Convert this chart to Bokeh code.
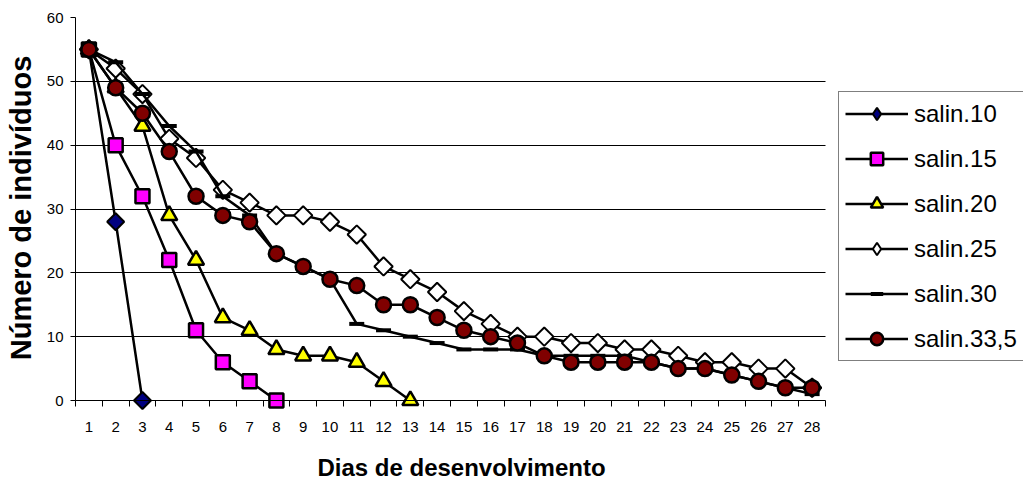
import math
from bokeh.plotting import figure
from bokeh.models import (Range1d, FixedTicker, Legend, LegendItem, Label)
from bokeh.embed import file_html
from bokeh.resources import INLINE

# ---- data ----
days = list(range(1, 29))
tick_labels = [str(d) for d in days]
y_ticks = [0, 10, 20, 30, 40, 50, 60]
grid_values = [10, 20, 30, 40, 50]

salin10 = [55, 28, 0]
salin15 = [55, 40, 32, 22, 11, 6, 3, 0]
salin20 = [55, 49, 43, 29, 22, 13, 11, 8, 7, 7, 6, 3, 0]
salin25 = [55, 52, 48, 41, 38, 33, 31, 29, 29, 28, 26, 21, 19, 17, 14, 12, 10,
           10, 9, 9, 8, 8, 7, 6, 6, 5, 5, 2]
salin30 = [55, 53, 48, 43, 39, 32, 29, 23, 21, 19, 12, 11, 10, 9, 8, 8, 8,
           7, 7, 7, 7, 6, 5, 5, 4, 3, 2, 1]
salin335 = [55, 49, 45, 39, 32, 29, 28, 23, 21, 19, 18, 15, 15, 13, 11, 10, 9,
            7, 6, 6, 6, 6, 5, 5, 4, 3, 2, 2]

series_names = ["salin.10", "salin.15", "salin.20", "salin.25", "salin.30", "salin.33,5"]
series_values = [salin10, salin15, salin20, salin25, salin30, salin335]

FONT = "Liberation Sans"

# ---- layout (pixels) ----
W, H = 1023, 480
PLOT_L, PLOT_R = 75, 825          # x of category edges 0.5 and 28.5
PLOT_T, PLOT_B = 17, 400          # y of values 60 and 0
X0, X1 = 0.5, 28.5
YMAX = 60
px_x = (PLOT_R - PLOT_L) / (X1 - X0)
px_y = (PLOT_B - PLOT_T) / YMAX


def dx(px):   # pixel column -> data x
    return X0 + (px - PLOT_L) / px_x


def dy(py):   # pixel row -> data y
    return (PLOT_B - py) / px_y


p = figure(width=W, height=H, output_backend="svg", toolbar_location=None,
           x_range=Range1d(dx(0), dx(W)), y_range=Range1d(dy(H), dy(0)),
           min_border_left=0, min_border_right=0, min_border_top=0,
           min_border_bottom=0)
p.outline_line_color = None
p.background_fill_color = "white"
p.border_fill_color = "white"

# x axis: drawn at y = 0, tick marks between categories, labels at centres
xa = p.xaxis[0]
xa.fixed_location = 0
xa.bounds = (X0, X1)
xa.ticker = FixedTicker(ticks=days, minor_ticks=[d - 0.5 for d in days] + [X1])
xa.major_label_overrides = {d: lab for d, lab in zip(days, tick_labels)}
xa.major_tick_out = 0
xa.major_tick_in = 0
xa.minor_tick_out = 6
xa.minor_tick_in = 0
xa.minor_tick_line_color = "black"
xa.axis_line_color = "black"
xa.major_label_standoff = 15
xa.major_label_text_font = FONT
xa.major_label_text_font_size = "15px"
xa.major_label_text_color = "black"

# y axis: drawn at the left edge of the category area
ya = p.yaxis[0]
ya.fixed_location = X0
ya.bounds = (0, YMAX)
ya.ticker = FixedTicker(ticks=y_ticks, minor_ticks=[])
ya.major_tick_out = 5
ya.major_tick_in = 0
ya.major_tick_line_color = "black"
ya.axis_line_color = "black"
ya.major_label_standoff = 7
ya.major_label_text_font = FONT
ya.major_label_text_font_size = "15px"
ya.major_label_text_color = "black"

p.xgrid.visible = False
yg = p.ygrid[0]
yg.ticker = FixedTicker(ticks=grid_values)
yg.grid_line_color = "black"
yg.grid_line_alpha = 1
yg.grid_line_width = 1
if "cross_bounds" in yg.properties():
    yg.cross_bounds = (X0, X1)

# axis titles
p.add_layout(Label(x=dx(20), y=dy(207.5), text="Número de indivíduos",
                   angle=math.pi / 2, text_align="center", text_baseline="middle",
                   text_font=FONT, text_font_style="bold", text_font_size="29px",
                   text_color="black"))
p.add_layout(Label(x=dx(461), y=dy(467), text="Dias de desenvolvimento",
                   text_align="center", text_baseline="middle",
                   text_font=FONT, text_font_style="bold", text_font_size="24px",
                   text_color="black"))

styles = [
    dict(marker="square", angle=math.pi / 4, size=12, fill_color="#000080", line_width=2, legend_marker="diamond"),
    dict(marker="square", angle=0, size=14, fill_color="#FF00FF", line_width=2.5, legend_marker=None),
    dict(marker="triangle", angle=0, size=16, fill_color="#FFFF00", line_width=2.5, legend_marker=None),
    dict(marker="square", angle=math.pi / 4, size=13, fill_color="white", line_width=2, legend_marker="diamond"),
    dict(marker="dash", angle=0, size=15, fill_color="black", line_width=4, legend_marker=None),
    dict(marker="circle", angle=0, size=15, fill_color="#800000", line_width=2.5, legend_marker=None),
]

items = []
for name, vals, st in zip(series_names, series_values, styles):
    xs = days[:len(vals)]
    lr = p.line(xs, vals, line_color="black", line_width=2.5)
    key_r = None
    if st["legend_marker"]:
        # legend keys are not rotated, so the key uses a diamond glyph drawn
        # underneath the (larger) rotated square markers of the same points
        key_r = p.scatter(xs, vals, marker=st["legend_marker"], size=st["size"] - 2,
                          fill_color=st["fill_color"], line_color="black",
                          line_width=st["line_width"])
    sr = p.scatter(xs, vals, marker=st["marker"], angle=st["angle"], size=st["size"],
                   fill_color=st["fill_color"], line_color="black",
                   line_width=st["line_width"])
    items.append(LegendItem(label=name, renderers=[lr, key_r if key_r is not None else sr]))

legend = Legend(items=items, location=(838, H - 361), orientation="vertical",
                label_text_font=FONT, label_text_font_size="24px",
                label_text_color="black", glyph_width=63, glyph_height=31,
                label_height=31, spacing=14, padding=6, margin=0,
                label_standoff=6, border_line_color="black",
                border_line_width=1, background_fill_color="white",
                background_fill_alpha=1)
p.add_layout(legend, "center")

open("out.html", "w").write(file_html(p, INLINE))
